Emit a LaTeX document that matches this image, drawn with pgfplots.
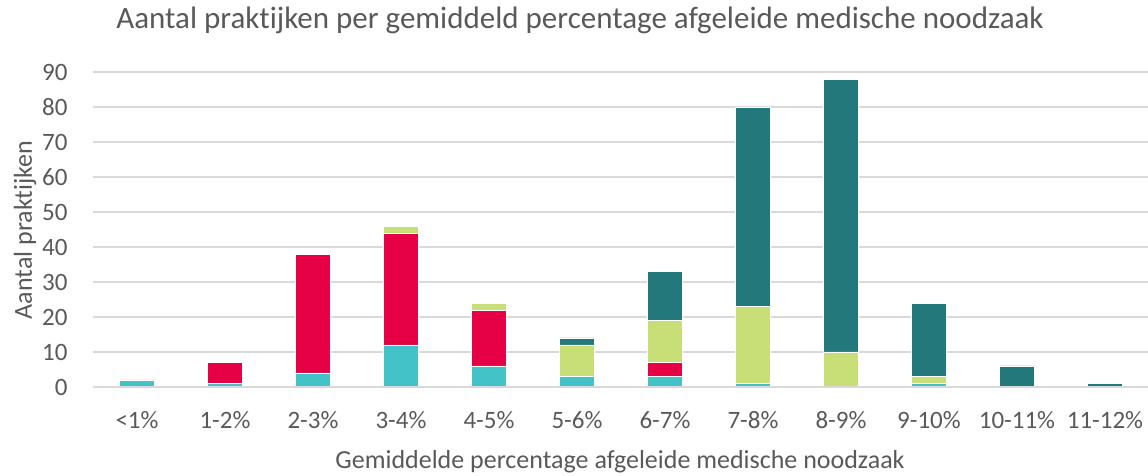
\documentclass[border=0pt]{standalone}
\usepackage{pgfplots}
\pgfplotsset{compat=1.18}
\usepackage{fontspec}
\setmainfont{Carlito}[Ligatures={NoCommon}]
\definecolor{cA}{HTML}{43C3C8}
\definecolor{cB}{HTML}{E60045}
\definecolor{cC}{HTML}{C8DF78}
\definecolor{cD}{HTML}{23787B}
\definecolor{txt}{HTML}{595959}
\definecolor{grd}{HTML}{D9D9D9}
\begin{document}
\begin{tikzpicture}
\useasboundingbox (-93pt,-89pt) rectangle (1055pt,387pt);
\begin{axis}[
  scale only axis, width=1056pt, height=315pt,
  xmin=-0.5, xmax=11.5, ymin=0, ymax=90,
  ybar stacked, bar width=35pt,
  axis line style={draw=none},
  ymajorgrids, grid style={grd, line width=1.5pt},
  ytick={0,10,...,90},
  xtick={0,...,11},
  xticklabels={<1\%,1-2\%,2-3\%,3-4\%,4-5\%,5-6\%,6-7\%,7-8\%,8-9\%,9-10\%,10-11\%,11-12\%},
  tick style={draw=none},
  ticklabel style={font=\fontsize{25}{28}\selectfont, text=txt},
  /pgf/number format/assume math mode=true,
  yticklabel style={xshift=-22pt},
  xticklabel style={yshift=-21pt},
  clip=false,
  every axis plot/.append style={draw=white, line width=0.6pt},
]
\draw[grd, line width=1.5pt] (axis cs:-0.5,0) -- (axis cs:11.5,0);
\addplot[fill=cA] coordinates {(0,2) (1,1) (2,4) (3,12) (4,6) (5,3) (6,3) (7,1) (8,0) (9,1) (10,0) (11,0)};
\addplot[fill=cB] coordinates {(0,0) (1,6) (2,34) (3,32) (4,16) (5,0) (6,4) (7,0) (8,0) (9,0) (10,0) (11,0)};
\addplot[fill=cC] coordinates {(0,0) (1,0) (2,0) (3,2) (4,2) (5,9) (6,12) (7,22) (8,10) (9,2) (10,0) (11,0)};
\addplot[fill=cD] coordinates {(0,0) (1,0) (2,0) (3,0) (4,0) (5,2) (6,14) (7,57) (8,78) (9,21) (10,6) (11,1)};
\end{axis}
\node[text=txt, font=\fontsize{31}{36}\selectfont] at (487pt,367pt) {Aantal praktijken per gemiddeld percentage afgeleide medische noodzaak};
\node[text=txt, font=\fontsize{26}{30}\selectfont] at (527pt,-75pt) {Gemiddelde percentage afgeleide medische noodzaak};
\node[text=txt, font=\fontsize{26}{30}\selectfont, rotate=90] at (-68pt,157pt) {Aantal praktijken};
\end{tikzpicture}
\end{document}
